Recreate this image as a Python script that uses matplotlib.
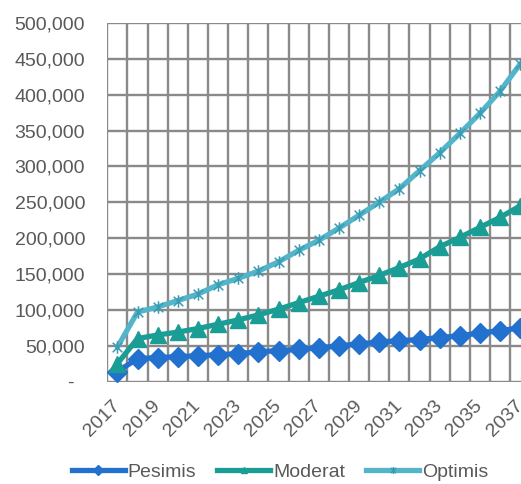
import matplotlib
matplotlib.use("Agg")
import matplotlib.pyplot as plt
from matplotlib.path import Path
from matplotlib.lines import Line2D
from matplotlib.ticker import FixedLocator, FuncFormatter
from matplotlib.transforms import ScaledTranslation

plt.rcParams['font.family'] = ['Liberation Sans', 'DejaVu Sans']

# Population projection per scenario, 2017-2037
years = list(range(2017, 2038))
pesimis = [14000, 32000, 33500, 34800, 36000, 37500, 39000, 41500, 43200, 44800,
           47200, 49800, 52500, 55200, 57000, 58700, 61200, 64000, 67800, 71000, 75000]
moderat = [25000, 60000, 65000, 69000, 74000, 80000, 86000, 93000, 101000, 110000,
           119000, 128000, 138000, 148000, 159000, 171000, 188000, 201000, 215000, 229000, 245000]
optimis = [48000, 97000, 104000, 113000, 122000, 135000, 144000, 154000, 167000, 183000,
           197000, 214000, 232000, 250000, 269000, 294000, 319000, 346000, 374000, 405000, 443000]
series_names = ["Pesimis", "Moderat", "Optimis"]
y_ticks = list(range(0, 500001, 50000))

colors = ["#2371cf", "#1a9d94", "#52b5ca"]
star = Path([(-1, -1), (1, 1), (-1, 1), (1, -1), (0, -1.3), (0, 1.3)],
            [Path.MOVETO, Path.LINETO, Path.MOVETO, Path.LINETO, Path.MOVETO, Path.LINETO])
markers = ["D", "^", star]
text_color = "#595959"
grid_color = "#8a8a8a"

fig = plt.figure(figsize=(5.21, 4.84), dpi=100)
ax = fig.add_axes([107.3 / 521, (484 - 381.6) / 484, 423 / 521, 358.6 / 484])
x = list(range(len(years)))

for vals, c, m in zip([pesimis, moderat, optimis], colors, markers):
    if m is star:
        ax.plot(x, vals, color=c, lw=3.8, marker=m, markersize=9,
                markeredgecolor="#3a9cb3", markeredgewidth=1.1, zorder=3,
                solid_capstyle="round")
    else:
        ax.plot(x, vals, color=c, lw=3.8, marker=m, markersize=11 if m == "^" else 10,
                markeredgecolor=c, markerfacecolor=c, zorder=3,
                solid_capstyle="round")

ax.set_xlim(-0.5, len(years) - 0.5)
ax.set_ylim(0, 500000)
ax.set_yticks(y_ticks)
ax.yaxis.set_major_formatter(FuncFormatter(lambda v, p: "-  " if v == 0 else f"{int(v):,}"))
ax.set_xticks(x[::2])
ax.set_xticklabels([str(y) for y in years[::2]], rotation=45, ha="right")
ax.xaxis.set_minor_locator(FixedLocator([i - 0.5 for i in range(len(years) + 1)]))

ax.grid(True, axis="y", which="major", color=grid_color, lw=1.7)
ax.grid(True, axis="x", which="minor", color=grid_color, lw=1.7)
ax.grid(False, axis="x", which="major")
ax.set_axisbelow(True)
for s in ax.spines.values():
    s.set_visible(False)
ax.tick_params(axis="both", which="both", length=0, labelsize=14, colors=text_color)
ax.tick_params(axis="y", pad=16)
ax.tick_params(axis="x", pad=11)
shift = ScaledTranslation(6 / 100, 0, fig.dpi_scale_trans)
for lab in ax.get_xticklabels():
    lab.set_transform(lab.get_transform() + shift)

handles = []
for c, m, name in zip(colors, markers, series_names):
    if m is star:
        h = Line2D([], [], color=c, lw=3.8, marker=m, markersize=5,
                   markeredgecolor="#3a9cb3", markeredgewidth=1.0)
    else:
        h = Line2D([], [], color=c, lw=3.8, marker=m, markersize=5,
                   markeredgecolor=c, markerfacecolor=c)
    handles.append(h)
leg = fig.legend(handles, series_names, loc="center", bbox_to_anchor=(280 / 521, 1 - 472 / 484),
                 ncol=3, frameon=False, fontsize=14, handlelength=2.7, handletextpad=0.15,
                 columnspacing=1.1, borderpad=0)
for t in leg.get_texts():
    t.set_color(text_color)

fig.savefig("out.png", dpi=100)
